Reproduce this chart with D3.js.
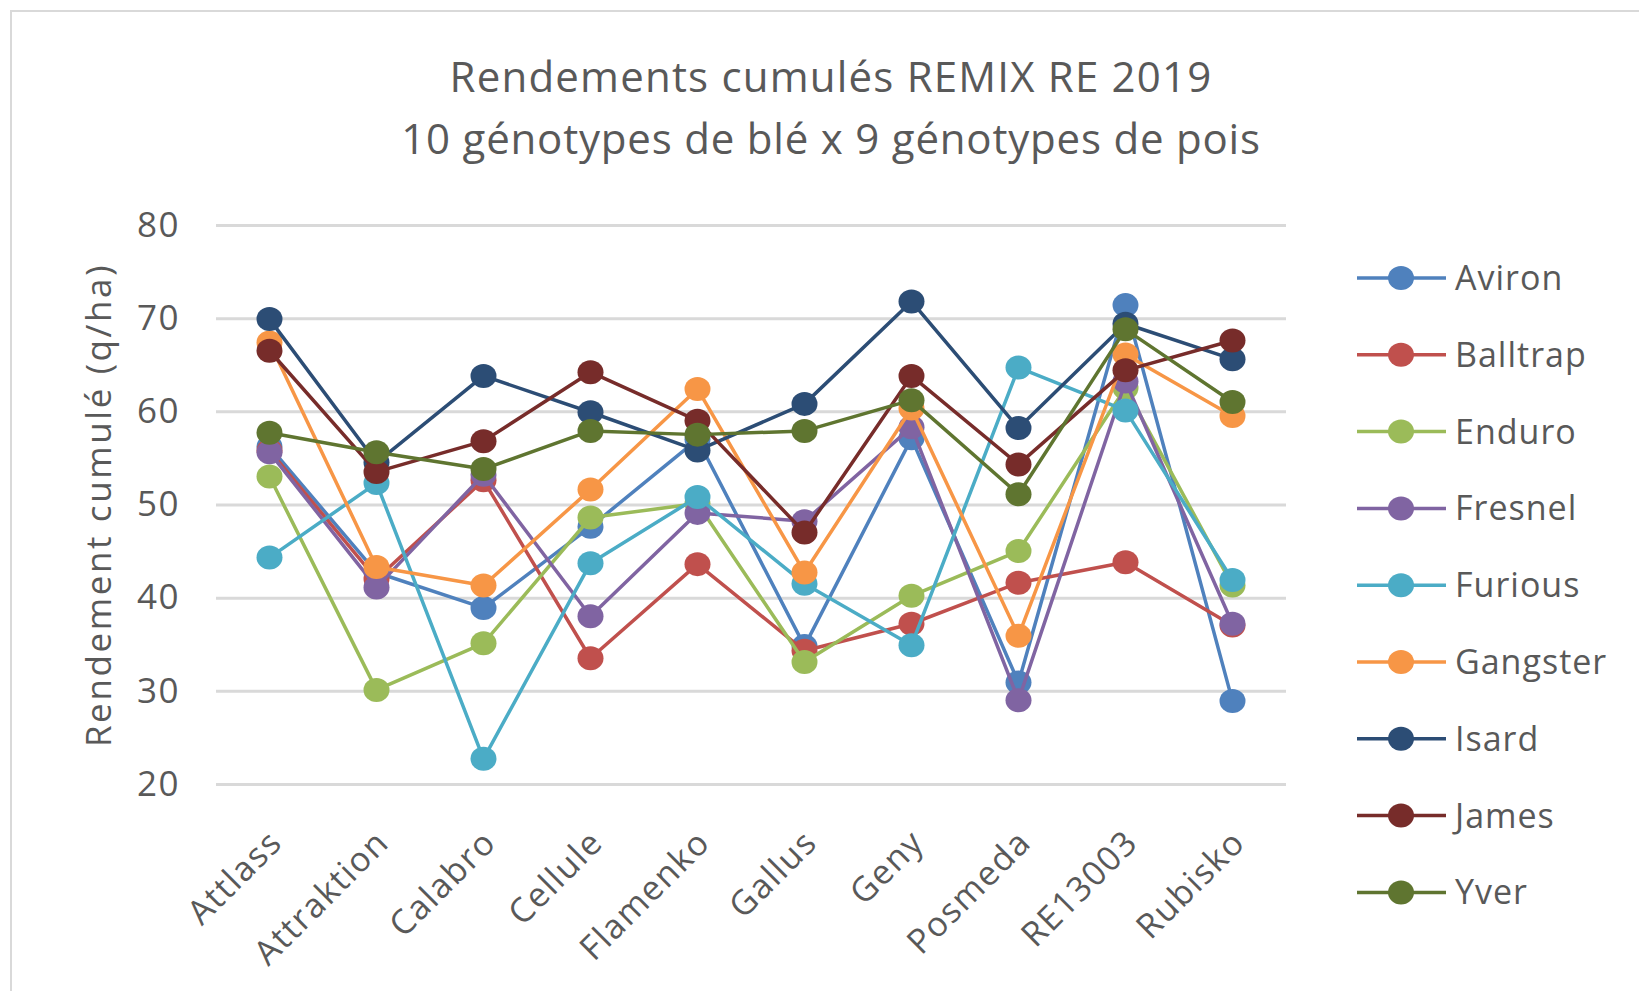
<!DOCTYPE html>
<html>
<head>
<meta charset="utf-8">
<script src="https://cdn.jsdelivr.net/npm/d3@7"></script>
<style>
  body { margin: 0; background: #fff; }
  text { font-family: "Open Sans", sans-serif; fill: #595959; }
</style>
</head>
<body>
<div id="chart"></div>
<script>
// wheat genotypes on x
const categories = ['Attlass', 'Attraktion', 'Calabro', 'Cellule', 'Flamenko',
  'Gallus', 'Geny', 'Posmeda', 'RE13003', 'Rubisko'];

// one series per pea genotype (q/ha)
const aviron   = [56.2, 42.7, 38.9, 47.6, 57.0, 34.8, 57.1, 30.9, 71.4, 28.9];
const balltrap = [55.8, 42.0, 52.6, 33.5, 43.6, 34.3, 37.2, 41.6, 43.8, 37.0];
const enduro   = [53.0, 30.1, 35.1, 48.6, 50.1, 33.1, 40.2, 45.0, 62.5, 41.3];
const fresnel  = [55.6, 41.1, 53.2, 38.0, 49.1, 48.2, 58.3, 29.0, 63.2, 37.2];
const furious  = [44.3, 52.3, 22.7, 43.7, 50.8, 41.5, 34.9, 64.7, 60.1, 41.9];
const gangster = [67.4, 43.3, 41.3, 51.6, 62.4, 42.7, 60.3, 35.9, 66.1, 59.5];
const isard    = [69.9, 54.5, 63.8, 59.9, 55.8, 60.8, 71.8, 58.2, 69.4, 65.6];
const james    = [66.5, 53.5, 56.8, 64.2, 59.0, 47.0, 63.8, 54.3, 64.4, 67.6];
const yver     = [57.7, 55.6, 53.8, 57.9, 57.5, 57.9, 61.2, 51.1, 68.8, 61.0];

const seriesNames = ['Aviron', 'Balltrap', 'Enduro', 'Fresnel', 'Furious',
  'Gangster', 'Isard', 'James', 'Yver'];
const seriesValues = [aviron, balltrap, enduro, fresnel, furious, gangster, isard, james, yver];
const seriesColors = ['#4f81bd', '#c0504d', '#9bbb59', '#8064a2', '#4bacc6',
  '#f79646', '#2c4d75', '#772c2a', '#5f7530'];

const yTicks = [20, 30, 40, 50, 60, 70, 80];

const width = 1639, height = 991;
const plot = {left: 216, right: 1286, top: 225, bottom: 784};

const svg = d3.select('#chart').append('svg')
  .attr('width', width)
  .attr('height', height);

// chart frame
svg.append('rect')
  .attr('x', 11).attr('y', 11)
  .attr('width', width).attr('height', height)
  .attr('fill', 'none')
  .attr('stroke', '#d9d9d9')
  .attr('stroke-width', 2);

svg.append('text')
  .attr('x', 831).attr('y', 92)
  .attr('text-anchor', 'middle')
  .style('font-size', '42px')
  .style('letter-spacing', '1.2px')
  .text('Rendements cumulés REMIX RE 2019');
svg.append('text')
  .attr('x', 831).attr('y', 154)
  .attr('text-anchor', 'middle')
  .style('font-size', '42px')
  .style('letter-spacing', '0.8px')
  .text('10 génotypes de blé x 9 génotypes de pois');

const x = d3.scaleBand()
  .domain(categories)
  .range([plot.left, plot.right]);

const y = d3.scaleLinear()
  .domain([20, 80])
  .range([plot.bottom, plot.top]);

// gridlines + y labels
const yAxis = svg.append('g')
  .attr('transform', `translate(${plot.left},0)`)
  .call(d3.axisLeft(y).tickValues(yTicks).tickSize(-(plot.right - plot.left)).tickPadding(36));
yAxis.select('.domain').remove();
yAxis.selectAll('.tick line')
  .attr('stroke', '#d9d9d9')
  .attr('stroke-width', 3);
yAxis.selectAll('.tick text')
  .style('font-size', '35px')
  .style('letter-spacing', '1.5px')
  .style('font-family', '"Open Sans", sans-serif')
  .attr('fill', '#595959');

svg.append('text')
  .attr('transform', 'translate(99,505) rotate(-90)')
  .attr('text-anchor', 'middle')
  .attr('dy', '0.35em')
  .style('font-size', '35px')
  .style('letter-spacing', '2.6px')
  .text('Rendement cumulé (q/ha)');

// x labels, rotated
svg.append('g')
  .selectAll('text')
  .data(categories)
  .join('text')
  .attr('transform', d => `translate(${x(d) + x.bandwidth() / 2 + 6},836) rotate(-45)`)
  .attr('text-anchor', 'end')
  .attr('dy', '0.35em')
  .style('font-size', '34px')
  .style('letter-spacing', '1.5px')
  .text(d => d);

const line = d3.line()
  .x((d, i) => x(categories[i]) + x.bandwidth() / 2)
  .y(d => y(d));

const series = svg.append('g')
  .selectAll('g')
  .data(seriesValues)
  .join('g');

series.append('path')
  .attr('d', d => line(d))
  .attr('fill', 'none')
  .attr('stroke', (d, i) => seriesColors[i])
  .attr('stroke-width', 3.5)
  .attr('stroke-linejoin', 'round');

series.each(function (vals, si) {
  d3.select(this).selectAll('ellipse')
    .data(vals)
    .join('ellipse')
    .attr('cx', (d, i) => x(categories[i]) + x.bandwidth() / 2)
    .attr('cy', d => y(d))
    .attr('rx', 13)
    .attr('ry', 12)
    .attr('fill', seriesColors[si]);
});

// legend
const legend = svg.append('g')
  .selectAll('g')
  .data(seriesNames)
  .join('g')
  .attr('transform', (d, i) => `translate(0,${278 + i * 76.8})`);

legend.append('line')
  .attr('x1', 1357).attr('x2', 1446)
  .attr('stroke', (d, i) => seriesColors[i])
  .attr('stroke-width', 3.5);
legend.append('ellipse')
  .attr('cx', 1401)
  .attr('rx', 13)
  .attr('ry', 12)
  .attr('fill', (d, i) => seriesColors[i]);
legend.append('text')
  .attr('x', 1455)
  .attr('dy', '0.35em')
  .style('font-size', '34px')
  .style('letter-spacing', '1px')
  .text(d => d);
</script>
</body>
</html>
